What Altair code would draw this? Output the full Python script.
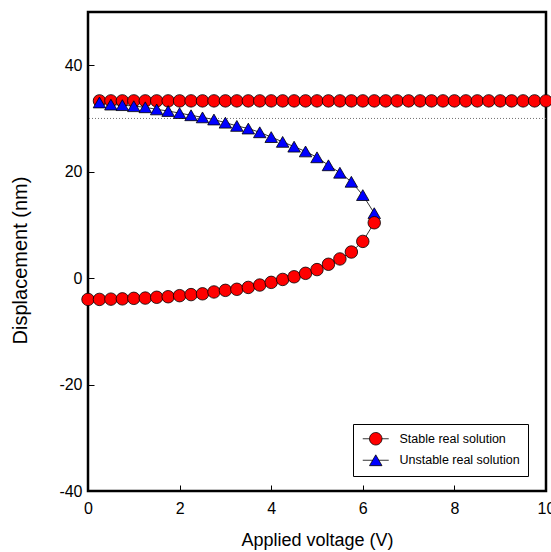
import altair as alt
import pandas as pd

# ---- data ----
stable_upper_v = [0.25, 0.5, 0.75, 1.0, 1.25, 1.5, 1.75, 2.0, 2.25, 2.5,
                  2.75, 3.0, 3.25, 3.5, 3.75, 4.0, 4.25, 4.5, 4.75, 5.0,
                  5.25, 5.5, 5.75, 6.0, 6.25, 6.5, 6.75, 7.0, 7.25, 7.5,
                  7.75, 8.0, 8.25, 8.5, 8.75, 9.0, 9.25, 9.5, 9.75, 10.0]
stable_upper_y = [33.3, 33.3, 33.3, 33.3, 33.3, 33.3, 33.3, 33.3, 33.3, 33.3,
                  33.3, 33.3, 33.3, 33.3, 33.3, 33.3, 33.3, 33.3, 33.3, 33.3,
                  33.3, 33.3, 33.3, 33.3, 33.3, 33.3, 33.3, 33.3, 33.3, 33.3,
                  33.3, 33.3, 33.3, 33.3, 33.3, 33.3, 33.3, 33.3, 33.3, 33.3]

stable_lower_v = [0.0, 0.25, 0.5, 0.75, 1.0, 1.25, 1.5, 1.75, 2.0, 2.25,
                  2.5, 2.75, 3.0, 3.25, 3.5, 3.75, 4.0, 4.25, 4.5, 4.75,
                  5.0, 5.25, 5.5, 5.75, 6.0, 6.25]
stable_lower_y = [-4.0, -4.0, -3.95, -3.9, -3.8, -3.75, -3.6, -3.5, -3.3, -3.1,
                  -2.95, -2.6, -2.3, -2.1, -1.75, -1.3, -0.8, -0.25, 0.25, 0.9,
                  1.6, 2.6, 3.6, 4.9, 6.9, 10.4]

unstable_v = [0.25, 0.5, 0.75, 1.0, 1.25, 1.5, 1.75, 2.0, 2.25, 2.5,
              2.75, 3.0, 3.25, 3.5, 3.75, 4.0, 4.25, 4.5, 4.75, 5.0,
              5.25, 5.5, 5.75, 6.0, 6.25]
unstable_y = [33.0, 32.6, 32.5, 32.3, 32.1, 31.7, 31.4, 31.0, 30.6, 30.2,
              29.8, 29.2, 28.6, 28.1, 27.4, 26.5, 25.6, 24.7, 23.8, 22.7,
              21.2, 19.8, 18.1, 15.6, 12.2]

reference_level = [30]
series_names = ["Stable real solution", "Unstable real solution"]
x_ticks = [0, 2, 4, 6, 8, 10]
y_ticks = [-40, -20, 0, 20, 40]

# ---- build table ----
rows = []
for v, y in zip(stable_upper_v, stable_upper_y):
    rows.append({"V": v, "D": y, "series": series_names[0], "branch": "a"})
for v, y in zip(unstable_v, unstable_y):
    rows.append({"V": v, "D": y, "series": series_names[1], "branch": "b"})
for v, y in zip(stable_lower_v, stable_lower_y):
    rows.append({"V": v, "D": y, "series": series_names[0], "branch": "c"})
df = pd.DataFrame(rows)
df["legend_series"] = df["series"]
df["order"] = range(len(df))

ref_df = pd.DataFrame({"D": reference_level})

FONT = "Liberation Sans"
xscale = alt.Scale(domain=[0, 10], nice=False, zero=False)
yscale = alt.Scale(domain=[-40, 50], nice=False, zero=False)

x_axis = alt.Axis(orient="bottom", values=x_ticks, ticks=False, domain=False,
                  grid=True, gridColor="black", gridWidth=1,
                  gridDash=[0, 473, 6, 3000], gridOpacity=1,
                  labelFontSize=16, labelFont=FONT, labelColor="black",
                  labelPadding=9, labelFlush=False,
                  labelExpr="'' + datum.value",
                  title="Applied voltage (V)", titleFont=FONT,
                  titleFontSize=18, titleFontWeight="normal",
                  titleColor="black", titlePadding=15)
y_axis = alt.Axis(orient="left", values=y_ticks, ticks=False, domain=False,
                  grid=True, gridColor="black", gridWidth=1,
                  gridDash=[6, 3000], gridOpacity=1,
                  labelFontSize=16, labelFont=FONT, labelColor="black",
                  labelPadding=6, labelFlush=False,
                  labelExpr="'' + datum.value",
                  title="Displacement (nm)", titleFont=FONT,
                  titleFontSize=20, titleFontWeight="normal",
                  titleColor="black", titlePadding=28, titleY=248)

X = alt.X("V:Q", scale=xscale, axis=x_axis)
Y = alt.Y("D:Q", scale=yscale, axis=y_axis)

# legend symbols: marker with a short line through it
CIRCLE_LINE = ("M-2.08,0L-1,0M1,0L2.08,0"
               "M1,0C1,0.552,0.552,1,0,1"
               "C-0.552,1,-1,0.552,-1,0"
               "C-1,-0.552,-0.552,-1,0,-1"
               "C0.552,-1,1,-0.552,1,0Z")
TRIANGLE_LINE = "M-2.08,0L-0.5,0M0.5,0L2.08,0M0,-0.866L1,0.866L-1,0.866Z"

ref_rule = alt.Chart(ref_df).mark_rule(
    color="#707070", strokeWidth=1, strokeDash=[1, 2]
).encode(y=Y)

lines = alt.Chart(df).mark_line(strokeWidth=1, color="#333333").encode(
    x=X, y=Y, detail="branch:N", order="order:Q"
)

points = alt.Chart(df).mark_point(
    filled=True, size=156, stroke="black", strokeWidth=0.8, opacity=1
).encode(
    x=X, y=Y,
    fill=alt.Fill("series:N",
                  scale=alt.Scale(domain=series_names, range=["#FF0000", "#0000FF"]),
                  legend=None),
    shape=alt.Shape("series:N",
                    scale=alt.Scale(domain=series_names, range=["circle", "triangle-up"]),
                    legend=None),
)

legend_layer = alt.Chart(df).mark_point(
    filled=True, size=0, stroke="black", strokeWidth=0.8, opacity=1
).encode(
    x=X, y=Y,
    fill=alt.Fill("legend_series:N",
                  scale=alt.Scale(domain=series_names, range=["#FF0000", "#0000FF"]),
                  legend=alt.Legend(orient="none", legendX=265, legendY=412,
                                    title=None, symbolSize=156,
                                    symbolOpacity=1, symbolOffset=8,
                                    symbolStrokeColor="black", symbolStrokeWidth=0.8,
                                    strokeColor="black", padding=7.75,
                                    labelFont=FONT, labelFontSize=12.5,
                                    labelColor="black", labelOffset=16.75,
                                    rowPadding=5.5)),
    shape=alt.Shape("legend_series:N",
                    scale=alt.Scale(domain=series_names,
                                    range=[CIRCLE_LINE, TRIANGLE_LINE]),
                    legend=alt.Legend(orient="none", legendX=265, legendY=412,
                                      title=None, symbolSize=156)),
)

chart = alt.layer(ref_rule, lines, points, legend_layer).resolve_scale(
    fill="independent", shape="independent"
).properties(
    width=458, height=479,
    padding={"left": 88, "top": 12, "right": 5, "bottom": 61},
    autosize=alt.AutoSizeParams(type="none"),
    background="white",
).configure_view(
    stroke="black", strokeWidth=2.5
)

chart.save("out.html", embed_options={"renderer": "svg", "actions": False})
